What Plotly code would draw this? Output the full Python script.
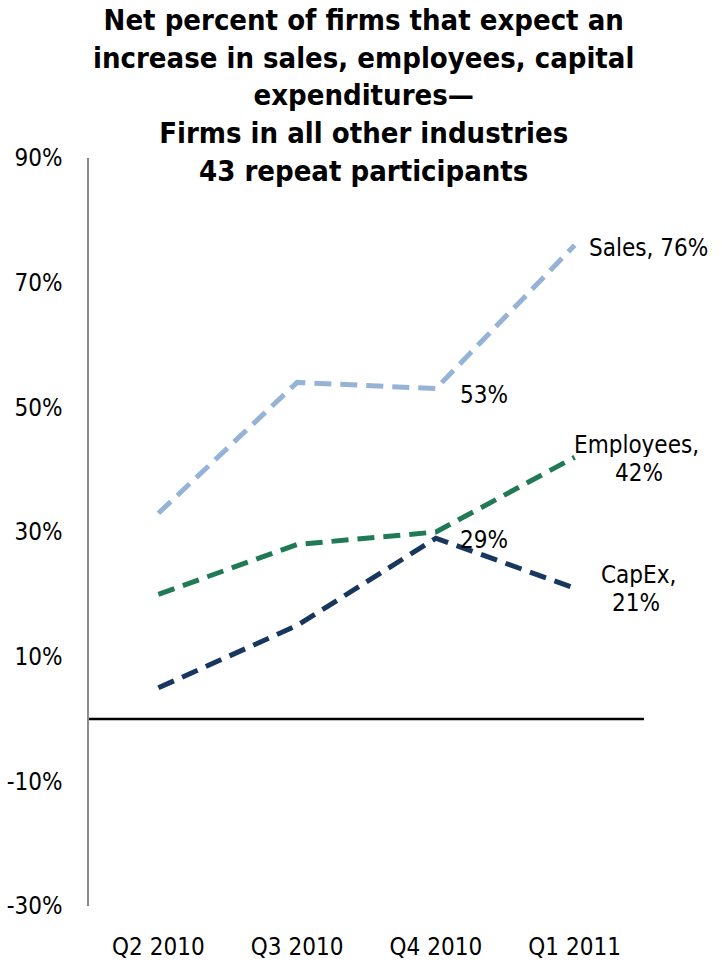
import plotly.graph_objects as go

quarters = ["Q2 2010", "Q3 2010", "Q4 2010", "Q1 2011"]
sales = [33, 54, 53, 76]
employees = [20, 28, 30, 42]
capex = [5, 15, 29, 21]
y_ticks = [-30, -10, 10, 30, 50, 70, 90]
y_tick_text = ["-30%", "-10%", "10%", "30%", "50%", "70%", "90%"]
title_text = ("Net percent of firms that expect an<br>increase in sales, employees, capital<br>"
              "expenditures—<br>Firms in all other industries<br>43 repeat participants")

FONT = "DejaVu Sans Condensed"

fig = go.Figure()
series = [
    ("Sales", sales, "#95B3D7"),
    ("Employees", employees, "#217A56"),
    ("CapEx", capex, "#17375E"),
]
for name, vals, color in series:
    fig.add_trace(go.Scatter(
        x=quarters, y=vals, mode="lines", name=name,
        line=dict(color=color, width=5, dash="17px,9px"),
        showlegend=False, hoverinfo="skip",
    ))

# zero line
fig.add_shape(type="line", xref="paper", yref="y", x0=0, x1=1, y0=0, y1=0,
              line=dict(color="black", width=2.5))

lab_font = dict(family=FONT, size=24, color="black")
ann = [
    dict(x=quarters[3], y=sales[3], text=f"Sales, {sales[3]}%", xshift=12, yshift=-3, xanchor="left"),
    dict(x=quarters[2], y=sales[2], text=f"{sales[2]}%", xshift=22, yshift=-6, xanchor="left"),
    dict(x=quarters[3], y=employees[3], text="Employees,", xshift=62, yshift=12, xanchor="center", height=24),
    dict(x=quarters[3], y=employees[3], text=f"{employees[3]}%", xshift=64, yshift=-16, xanchor="center", height=24),
    dict(x=quarters[2], y=capex[2], text=f"{capex[2]}%", xshift=22, yshift=-2, xanchor="left"),
    dict(x=quarters[3], y=capex[3], text="CapEx,", xshift=64, yshift=13, xanchor="center", height=24),
    dict(x=quarters[3], y=capex[3], text=f"{capex[3]}%", xshift=61, yshift=-15, xanchor="center", height=24),
]
for a in ann:
    fig.add_annotation(xref="x", yref="y", showarrow=False, font=lab_font, yanchor="middle", **a)

# title
fig.add_annotation(
    xref="paper", yref="paper", x=0.5, y=1, xanchor="center", yanchor="top",
    xshift=-3, yshift=157, showarrow=False, align="center",
    text=f"<b>{title_text}</b>",
    font=dict(family=FONT, size=29, color="black"),
)

fig.update_layout(
    width=722, height=964,
    paper_bgcolor="white", plot_bgcolor="white",
    margin=dict(l=89, r=78, t=158, b=58),
    font=dict(family=FONT, size=24, color="black"),
)
fig.update_xaxes(
    type="category", range=[-0.5, 3.5], showgrid=False, zeroline=False,
    showline=False, ticks="", ticklabelstandoff=24, automargin=False,
    tickfont=dict(family=FONT, size=24, color="black"),
)
fig.update_yaxes(
    range=[-30, 90], tickvals=y_ticks, ticktext=y_tick_text,
    showgrid=False, zeroline=False, showline=True, linecolor="#8c8c8c", linewidth=1.5,
    ticks="", ticklabelstandoff=20, automargin=False,
    tickfont=dict(family=FONT, size=24, color="black"),
)

fig.write_html("out.html", config={"displayModeBar": False},
               post_script="document.body.style.margin='0';")
